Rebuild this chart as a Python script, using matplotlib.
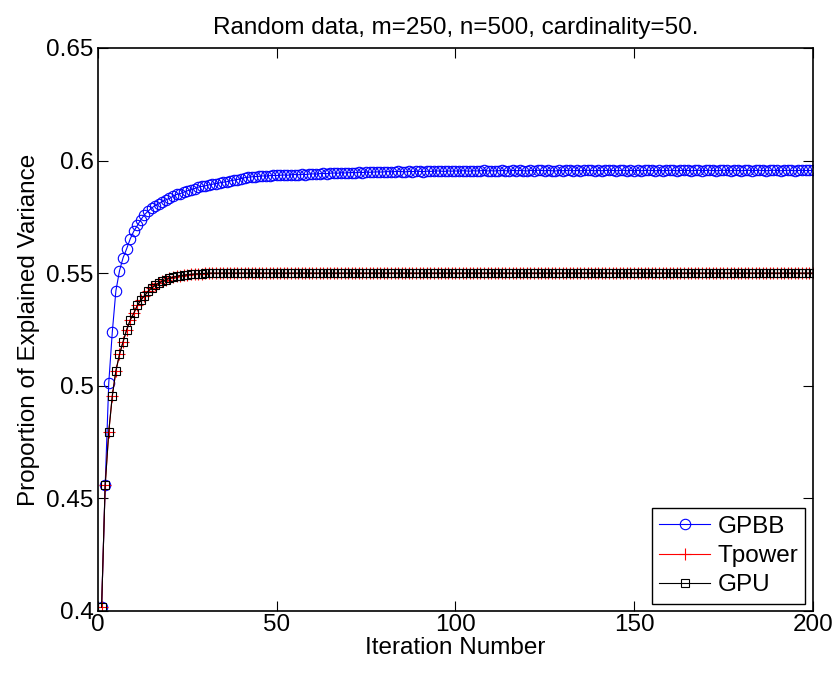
import matplotlib
matplotlib.use("Agg")
import matplotlib.pyplot as plt

plt.rcParams['font.family'] = ['Liberation Sans', 'DejaVu Sans']

iterations = list(range(1, 201))

gpbb = [
    0.4016, 0.4558, 0.5012, 0.5240, 0.5422, 0.5510, 0.5568, 0.5608, 0.5652, 0.5686,
    0.5712, 0.5738, 0.5760, 0.5775, 0.5790, 0.5800, 0.5808, 0.5818, 0.5826, 0.5832,
    0.5842, 0.5850, 0.5853, 0.5860, 0.5866, 0.5870, 0.5876, 0.5882, 0.5885, 0.5888,
    0.5892, 0.5895, 0.5898, 0.5901, 0.5904, 0.5906, 0.5910, 0.5913, 0.5916, 0.5920,
    0.5924, 0.5926, 0.5928, 0.5929, 0.5930, 0.5932, 0.5931, 0.5933, 0.5934, 0.5934,
    0.5935, 0.5936, 0.5935, 0.5937, 0.5938, 0.5937, 0.5939, 0.5938, 0.5940, 0.5941,
    0.5940, 0.5942, 0.5943, 0.5942, 0.5944, 0.5945, 0.5944, 0.5946, 0.5945, 0.5946,
    0.5947, 0.5946, 0.5948, 0.5947, 0.5949, 0.5948, 0.5949, 0.5950, 0.5949, 0.5950,
    0.5951, 0.5950, 0.5951, 0.5952, 0.5951, 0.5950, 0.5952, 0.5951, 0.5953, 0.5952,
    0.5951, 0.5953, 0.5952, 0.5953, 0.5954, 0.5953, 0.5952, 0.5954, 0.5953, 0.5954,
    0.5953, 0.5955, 0.5954, 0.5953, 0.5955, 0.5954, 0.5955, 0.5956, 0.5954, 0.5955,
    0.5954, 0.5955, 0.5956, 0.5955, 0.5954, 0.5956, 0.5955, 0.5956, 0.5955, 0.5954,
    0.5956, 0.5955, 0.5957, 0.5956, 0.5955, 0.5956, 0.5955, 0.5954, 0.5956, 0.5955,
    0.5956, 0.5957, 0.5955, 0.5956, 0.5955, 0.5956, 0.5957, 0.5956, 0.5955, 0.5956,
    0.5955, 0.5956, 0.5957, 0.5956, 0.5955, 0.5956, 0.5957, 0.5955, 0.5956, 0.5955,
    0.5956, 0.5955, 0.5956, 0.5957, 0.5956, 0.5955, 0.5956, 0.5955, 0.5956, 0.5957,
    0.5956, 0.5955, 0.5956, 0.5957, 0.5956, 0.5955, 0.5956, 0.5957, 0.5955, 0.5956,
    0.5957, 0.5956, 0.5955, 0.5956, 0.5957, 0.5956, 0.5955, 0.5957, 0.5956, 0.5955,
    0.5956, 0.5957, 0.5955, 0.5956, 0.5957, 0.5956, 0.5955, 0.5956, 0.5957, 0.5956,
    0.5955, 0.5956, 0.5957, 0.5956, 0.5955, 0.5956, 0.5957, 0.5956, 0.5956, 0.5956,
]

tpower = [
    0.4016, 0.4558, 0.4795, 0.4956, 0.5066, 0.5139, 0.5195, 0.5248, 0.5292, 0.5322,
    0.5357, 0.5381, 0.5400, 0.5419, 0.5434, 0.5446, 0.5456, 0.5464, 0.5471, 0.5477,
    0.5482, 0.5486, 0.5489, 0.5491, 0.5493, 0.5495, 0.5496, 0.5497, 0.5498, 0.5499,
    0.55, 0.55, 0.55, 0.55, 0.55, 0.55, 0.55, 0.55, 0.55, 0.55,
    0.55, 0.55, 0.55, 0.55, 0.55, 0.55, 0.55, 0.55, 0.55, 0.55,
    0.55, 0.55, 0.55, 0.55, 0.55, 0.55, 0.55, 0.55, 0.55, 0.55,
    0.55, 0.55, 0.55, 0.55, 0.55, 0.55, 0.55, 0.55, 0.55, 0.55,
    0.55, 0.55, 0.55, 0.55, 0.55, 0.55, 0.55, 0.55, 0.55, 0.55,
    0.55, 0.55, 0.55, 0.55, 0.55, 0.55, 0.55, 0.55, 0.55, 0.55,
    0.55, 0.55, 0.55, 0.55, 0.55, 0.55, 0.55, 0.55, 0.55, 0.55,
    0.55, 0.55, 0.55, 0.55, 0.55, 0.55, 0.55, 0.55, 0.55, 0.55,
    0.55, 0.55, 0.55, 0.55, 0.55, 0.55, 0.55, 0.55, 0.55, 0.55,
    0.55, 0.55, 0.55, 0.55, 0.55, 0.55, 0.55, 0.55, 0.55, 0.55,
    0.55, 0.55, 0.55, 0.55, 0.55, 0.55, 0.55, 0.55, 0.55, 0.55,
    0.55, 0.55, 0.55, 0.55, 0.55, 0.55, 0.55, 0.55, 0.55, 0.55,
    0.55, 0.55, 0.55, 0.55, 0.55, 0.55, 0.55, 0.55, 0.55, 0.55,
    0.55, 0.55, 0.55, 0.55, 0.55, 0.55, 0.55, 0.55, 0.55, 0.55,
    0.55, 0.55, 0.55, 0.55, 0.55, 0.55, 0.55, 0.55, 0.55, 0.55,
    0.55, 0.55, 0.55, 0.55, 0.55, 0.55, 0.55, 0.55, 0.55, 0.55,
    0.55, 0.55, 0.55, 0.55, 0.55, 0.55, 0.55, 0.55, 0.55, 0.55,
]

gpu = [
    0.4016, 0.4558, 0.4795, 0.4956, 0.5066, 0.5139, 0.5195, 0.5248, 0.5292, 0.5322,
    0.5357, 0.5381, 0.5400, 0.5419, 0.5434, 0.5446, 0.5456, 0.5464, 0.5471, 0.5477,
    0.5482, 0.5486, 0.5489, 0.5491, 0.5493, 0.5495, 0.5496, 0.5497, 0.5498, 0.5499,
    0.55, 0.55, 0.55, 0.55, 0.55, 0.55, 0.55, 0.55, 0.55, 0.55,
    0.55, 0.55, 0.55, 0.55, 0.55, 0.55, 0.55, 0.55, 0.55, 0.55,
    0.55, 0.55, 0.55, 0.55, 0.55, 0.55, 0.55, 0.55, 0.55, 0.55,
    0.55, 0.55, 0.55, 0.55, 0.55, 0.55, 0.55, 0.55, 0.55, 0.55,
    0.55, 0.55, 0.55, 0.55, 0.55, 0.55, 0.55, 0.55, 0.55, 0.55,
    0.55, 0.55, 0.55, 0.55, 0.55, 0.55, 0.55, 0.55, 0.55, 0.55,
    0.55, 0.55, 0.55, 0.55, 0.55, 0.55, 0.55, 0.55, 0.55, 0.55,
    0.55, 0.55, 0.55, 0.55, 0.55, 0.55, 0.55, 0.55, 0.55, 0.55,
    0.55, 0.55, 0.55, 0.55, 0.55, 0.55, 0.55, 0.55, 0.55, 0.55,
    0.55, 0.55, 0.55, 0.55, 0.55, 0.55, 0.55, 0.55, 0.55, 0.55,
    0.55, 0.55, 0.55, 0.55, 0.55, 0.55, 0.55, 0.55, 0.55, 0.55,
    0.55, 0.55, 0.55, 0.55, 0.55, 0.55, 0.55, 0.55, 0.55, 0.55,
    0.55, 0.55, 0.55, 0.55, 0.55, 0.55, 0.55, 0.55, 0.55, 0.55,
    0.55, 0.55, 0.55, 0.55, 0.55, 0.55, 0.55, 0.55, 0.55, 0.55,
    0.55, 0.55, 0.55, 0.55, 0.55, 0.55, 0.55, 0.55, 0.55, 0.55,
    0.55, 0.55, 0.55, 0.55, 0.55, 0.55, 0.55, 0.55, 0.55, 0.55,
    0.55, 0.55, 0.55, 0.55, 0.55, 0.55, 0.55, 0.55, 0.55, 0.55,
]

x_ticks = [0, 50, 100, 150, 200]
y_ticks = [0.4, 0.45, 0.5, 0.55, 0.6, 0.65]
y_labels = ['0.4', '0.45', '0.5', '0.55', '0.6', '0.65']

fig = plt.figure(figsize=(8.35, 6.74), dpi=100)
ax = fig.add_axes([0.1174, 0.0935, 0.8559, 0.8353])

ax.plot(iterations, gpbb, color='blue', lw=0.8, marker='o', ms=7.5,
        mfc='none', mec='blue', mew=0.8, label='GPBB')
ax.plot(iterations, tpower, color='red', lw=0.8, marker='+', ms=8,
        mew=0.8, label='Tpower')
ax.plot(iterations, gpu, color='black', lw=0.8, marker='s', ms=6,
        mfc='none', mec='black', mew=0.8, label='GPU')

ax.set_xlim(0, 200)
ax.set_ylim(0.4, 0.65)
ax.set_xticks(x_ticks)
ax.set_yticks(y_ticks)
ax.set_yticklabels(y_labels)
ax.tick_params(direction='in', length=7, width=0.8, top=True, right=True,
               labelsize=17.5, pad=3)
ax.tick_params(axis='x', pad=2)
for s in ax.spines.values():
    s.set_linewidth(1.2)

ax.set_xlabel('Iteration Number', fontsize=17.5, labelpad=1)
ax.set_ylabel('Proportion of Explained Variance', fontsize=17.5, labelpad=5)
ax.set_title('Random data, m=250, n=500, cardinality=50.', fontsize=17.5, pad=10)

leg = ax.legend(loc='lower right', bbox_to_anchor=(1.0, 0.0), fontsize=17.5,
                fancybox=False, edgecolor='black', framealpha=1,
                handlelength=2.1, handletextpad=0.3, borderpad=0.3,
                labelspacing=0.3, borderaxespad=0.3)
leg.get_frame().set_linewidth(1.0)

fig.savefig('out.png', dpi=100)
